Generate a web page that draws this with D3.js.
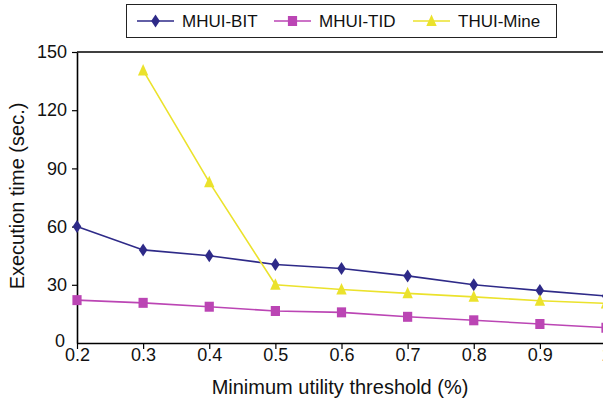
<!DOCTYPE html>
<html>
<head>
<meta charset="utf-8">
<script src="https://cdn.jsdelivr.net/npm/d3@7"></script>
<style>
  body { margin: 0; background: #fff; }
  svg { display: block; font-family: "Liberation Sans", Arial, sans-serif; }
</style>
</head>
<body>
<svg width="603" height="403"></svg>
<script>
// data
const thresholds = [0.2, 0.3, 0.4, 0.5, 0.6, 0.7, 0.8, 0.9, 1.0];
const xTickLabels = ["0.2", "0.3", "0.4", "0.5", "0.6", "0.7", "0.8", "0.9", "1"];
const yTicks = [0, 30, 60, 90, 120, 150];
const mhuiBit = [60, 48, 45, 40.5, 38.4, 34.6, 30, 27, 24.2];
const mhuiTid = [22.1, 20.7, 18.7, 16.5, 15.8, 13.5, 11.7, 9.8, 7.9];
const thuiMine = [null, 140.5, 82.9, 30, 27.6, 25.6, 23.8, 21.8, 20.4];

const seriesNames = ["MHUI-BIT", "MHUI-TID", "THUI-Mine"];
const seriesColors = ["#2e2a88", "#bb45b4", "#ebe22c"];
const seriesShapes = ["diamond", "square", "triangle"];
const seriesValues = [mhuiBit, mhuiTid, thuiMine];

let svg = d3.select("svg");
let margin = { left: 77, top: 52 };

let x = d3.scaleLinear().domain([0.2, 1.0]).range([margin.left, 606]);
let y = d3.scaleLinear().domain([0, 150]).range([343, margin.top]);

// marker paths centered on 0,0
function markerPath(shape) {
  if (shape === "diamond") return "M0,-6.5L4.3,0L0,6.5L-4.3,0Z";
  if (shape === "square") return "M-4.6,-5L4.6,-5L4.6,5L-4.6,5Z";
  return "M0,-6.5L5.2,5L-5.2,5Z";
}

// axes
let xAxis = d3.axisBottom(x)
  .tickValues(thresholds)
  .tickFormat((d, i) => xTickLabels[i])
  .tickSize(6)
  .tickSizeOuter(0);

let gx = svg.append("g")
  .attr("transform", `translate(0,${y(0)})`)
  .call(xAxis);
gx.select(".domain").attr("stroke", "#000").attr("stroke-width", 1.6);
gx.selectAll(".tick line").attr("stroke", "#000").attr("stroke-width", 1.2);
gx.selectAll(".tick text")
  .attr("dy", "0.8em")
  .attr("y", 4)
  .style("font-size", "18px")
  .attr("fill", "#111");

let yAxis = d3.axisLeft(y)
  .tickValues(yTicks)
  .tickSize(5)
  .tickSizeOuter(0);

let gy = svg.append("g")
  .attr("transform", `translate(${margin.left},0)`)
  .call(yAxis);
gy.select(".domain").attr("stroke", "#000").attr("stroke-width", 1.6);
gy.selectAll(".tick line").attr("stroke", "#000").attr("stroke-width", 1.2)
  .filter(d => d === 0).remove();
gy.selectAll(".tick text")
  .attr("x", -10)
  .style("font-size", "18px")
  .attr("fill", "#111");
gy.selectAll(".tick").filter(d => d === 0).select("text")
  .attr("x", -12).attr("dy", "0.2em");

// top border of plot frame
svg.append("line")
  .attr("x1", margin.left).attr("x2", 606)
  .attr("y1", y(150)).attr("y2", y(150))
  .attr("stroke", "#000").attr("stroke-width", 1.4);

// axis titles
svg.append("text")
  .attr("x", 340).attr("y", 394)
  .attr("text-anchor", "middle")
  .style("font-size", "20px")
  .attr("fill", "#111")
  .text("Minimum utility threshold (%)");

svg.append("text")
  .attr("transform", "translate(24,196) rotate(-90)")
  .attr("text-anchor", "middle")
  .style("font-size", "20px")
  .attr("fill", "#111")
  .text("Execution time (sec.)");

// lines + markers
seriesValues.forEach((vals, si) => {
  let pts = thresholds.map((t, i) => ({ t: t, v: vals[i] })).filter(d => d.v != null);
  let line = d3.line().x(d => x(d.t)).y(d => y(d.v));
  svg.append("path")
    .datum(pts)
    .attr("d", line)
    .attr("fill", "none")
    .attr("stroke", seriesColors[si])
    .attr("stroke-width", 1.6);
  svg.selectAll(".m" + si)
    .data(pts)
    .enter()
    .append("path")
    .attr("class", "m" + si)
    .attr("transform", d => `translate(${x(d.t)},${y(d.v)})`)
    .attr("d", markerPath(seriesShapes[si]))
    .attr("fill", seriesColors[si]);
});

// legend
let legend = svg.append("g");
legend.append("rect")
  .attr("x", 126.5).attr("y", 4.5)
  .attr("width", 430).attr("height", 33)
  .attr("fill", "#fff")
  .attr("stroke", "#222").attr("stroke-width", 1);

const legendX = [137, 274, 413];
seriesNames.forEach((name, i) => {
  let g = legend.append("g").attr("transform", `translate(${legendX[i]},21)`);
  g.append("line")
    .attr("x1", 0).attr("x2", 37)
    .attr("stroke", seriesColors[i]).attr("stroke-width", 1.6);
  g.append("path")
    .attr("transform", "translate(18.5,0)")
    .attr("d", markerPath(seriesShapes[i]))
    .attr("fill", seriesColors[i]);
  g.append("text")
    .attr("x", 45).attr("dy", "0.36em")
    .style("font-size", "17px")
    .attr("fill", "#111")
    .text(name);
});
</script>
</body>
</html>
